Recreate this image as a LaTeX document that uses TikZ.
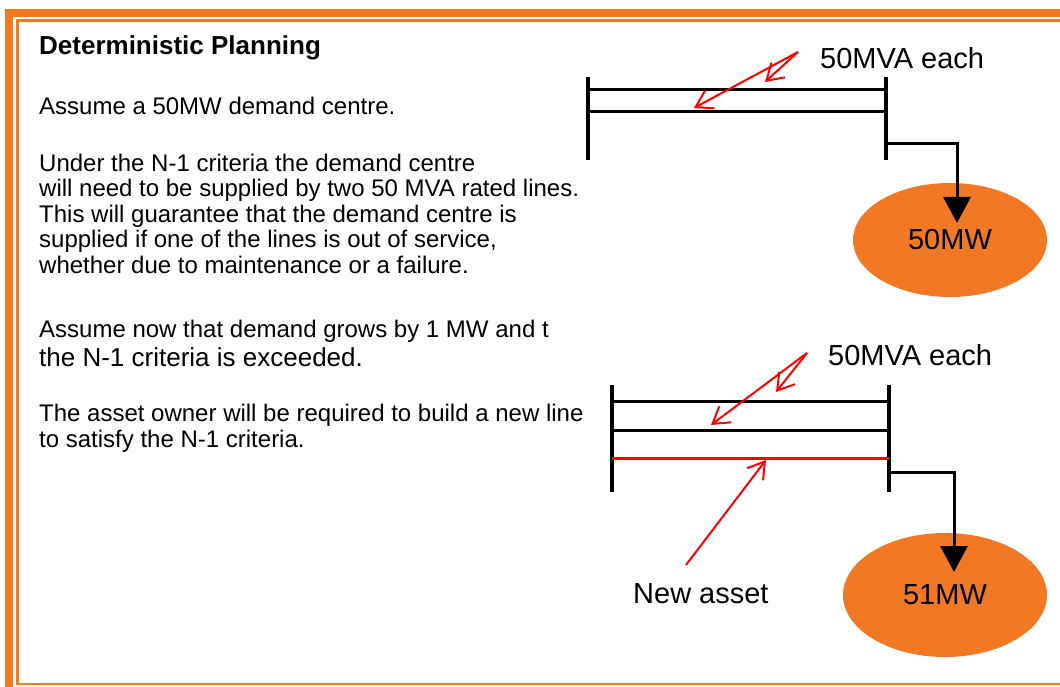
\documentclass[tikz,border=0pt]{standalone}
\usepackage{fontspec}
\setmainfont{Liberation Sans}
\usepackage{xcolor}
\usetikzlibrary{positioning,arrows.meta,shapes.geometric}
\definecolor{frameorange}{RGB}{244,121,32}
\definecolor{loadorange}{RGB}{243,120,36}

\tikzset{
  bodytext/.style={anchor=base west, inner sep=0pt, align=left, font=\fontsize{24}{25.5}\selectfont},
  bigtext/.style={anchor=base west, inner sep=0pt, font=\fontsize{26}{28}\selectfont},
  labeltext/.style={anchor=base west, inner sep=0pt, font=\fontsize{29}{31}\selectfont},
  bus/.style={line width=3.5pt, black},
  circuit/.style={line width=3pt, black},
  newcircuit/.style={line width=3pt, red},
  feed/.style={line width=3pt, black, -{Triangle[length=26pt,width=27pt]}},
  tag/.style={red, line width=2pt, -{Straight Barb[length=16pt,width=20pt]}},
  load/.style={ellipse, fill=loadorange, inner sep=0pt, font=\fontsize{29}{31}\selectfont},
}

\begin{document}
\begin{tikzpicture}[x=1pt,y=-1pt]
\useasboundingbox (0,0) rectangle (1060,687);
% frame
\fill[frameorange] (5,9) rectangle (1060,17);
\fill[frameorange] (5,9) rectangle (13,687);
\draw[frameorange, line width=2.6pt] (1060,20.7) -- (17.2,20.7) -- (17.2,684) -- (1060,684);

% text (multi-line nodes sit on their last baseline)
\node[bigtext, font=\fontsize{26}{28}\selectfont\bfseries] (title) at (39,55) {Deterministic Planning};
\node[bodytext] (demand) at (39,115) {Assume a 50MW demand centre.};
\node[bodytext] (criteria) at (39,273)
    {Under the N-1 criteria the demand centre\\
     will need to be supplied by two 50 MVA rated lines.\\
     This will guarantee that the demand centre is\\
     supplied if one of the lines is out of service,\\
     whether due to maintenance or a failure.};
\node[bodytext] (growth) at (39,337) {Assume now that demand grows by 1 MW and t};
\node[bigtext] (exceeded) at (39,366) {the N-1 criteria is exceeded.};
\node[bodytext] (build) at (39,447)
    {The asset owner will be required to build a new line\\
     to satisfy the N-1 criteria.};

% two lines, 50MW
\draw[bus] (588,77) -- (588,160);
\draw[bus] (886,77) -- (886,160);
\coordinate (a1) at (588,90);
\coordinate (a2) at (886,90);
\coordinate (b1) at (588,112);
\coordinate (b2) at (886,112);
\draw[circuit] (a1) -- (a2);
\draw[circuit] (b1) -- (b2);
\node[load, minimum width=194pt, minimum height=114pt] (load1) at (950,240) {50MW};
\coordinate (feed1) at (886,144);
\coordinate (tip1) at (957,223);
\draw[feed] (feed1) -| (tip1);
\node[labeltext] (rating1) at (820,69) {50MVA each};
\coordinate (from1) at (798,52);
\coordinate (to1a) at (765,82);
\coordinate (to1b) at (694,108);
\draw[tag] (from1) -- (to1a);
\draw[tag] (from1) -- (to1b);

% three lines, 51MW
\draw[bus] (612,385) -- (612,492);
\draw[bus] (889,385) -- (889,492);
\coordinate (c1) at (612,401);
\coordinate (c2) at (889,401);
\coordinate (d1) at (612,430);
\coordinate (d2) at (889,430);
\coordinate (e1) at (612,458);
\coordinate (e2) at (889,458);
\draw[circuit] (c1) -- (c2);
\draw[circuit] (d1) -- (d2);
\draw[newcircuit] (e1) -- (e2);
\node[load, minimum width=204pt, minimum height=124pt] (load2) at (945,595) {51MW};
\coordinate (feed2) at (889,472);
\coordinate (tip2) at (954,572);
\draw[feed] (feed2) -| (tip2);
\node[labeltext] (rating2) at (828,365) {50MVA each};
\coordinate (from2) at (807,353);
\coordinate (to2a) at (776,392);
\coordinate (to2b) at (711,425);
\draw[tag] (from2) -- (to2a);
\draw[tag] (from2) -- (to2b);
\node[labeltext] (asset) at (633,603) {New asset};
\coordinate (from3) at (686,565);
\coordinate (to3) at (766,460);
\draw[tag] (from3) -- (to3);
\end{tikzpicture}
\end{document}
